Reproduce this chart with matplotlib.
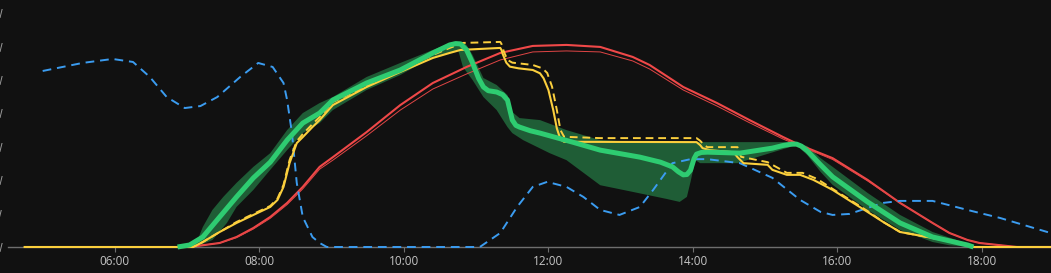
import matplotlib.pyplot as plt
import numpy as np

plt.rcParams['font.family'] = ['Open Sans', 'DejaVu Sans']

# --- data (time of day, kW) ---
blue_t = ['05:00', '05:33', '05:58', '06:15', '06:29', '06:43', '06:58', '07:11', '07:25', '07:44',
          '07:59', '08:11', '08:20', '08:23', '08:27', '08:31', '08:36', '08:44', '08:50', '08:56',
          '11:03', '11:20', '11:34', '11:47', '11:59', '12:15', '12:29', '12:43', '12:59', '13:16',
          '13:27', '13:43', '13:58', '14:12', '14:39', '15:06', '15:29', '15:46', '15:56', '16:10',
          '16:25', '16:38', '16:52', '17:19', '17:48', '17:58', '18:15', '18:57']
blue_v = [5.27, 5.51, 5.63, 5.54, 5.09, 4.49, 4.16, 4.22, 4.49, 5.09,
          5.51, 5.39, 4.91, 4.40, 3.41, 1.92, 0.90, 0.30, 0.12, 0.0,
          0.0, 0.42, 1.20, 1.80, 1.95, 1.80, 1.50, 1.11, 0.96, 1.20,
          1.71, 2.51, 2.63, 2.63, 2.51, 2.07, 1.41, 1.05, 0.96, 0.99,
          1.17, 1.32, 1.38, 1.38, 1.11, 1.02, 0.87, 0.42]

red_t = ['07:02', '07:27', '07:41', '07:55', '08:09', '08:23', '08:36', '08:50', '09:01', '09:29',
         '09:57', '10:24', '10:52', '11:20', '11:47', '12:15', '12:43', '13:10', '13:24', '13:52',
         '14:20', '14:47', '15:15', '15:29', '15:56', '16:25', '16:52', '17:19', '17:33', '17:48',
         '17:58', '18:29', '18:57']
red_v = [0.0, 0.12, 0.30, 0.57, 0.90, 1.32, 1.80, 2.40, 2.69, 3.44,
         4.25, 4.91, 5.39, 5.81, 6.02, 6.05, 5.99, 5.69, 5.45, 4.79,
         4.31, 3.80, 3.29, 3.05, 2.66, 2.01, 1.32, 0.72, 0.42, 0.21,
         0.12, 0.0, 0.0]
red_thin_v = [0.0, 0.12, 0.28, 0.54, 0.86, 1.27, 1.74, 2.33, 2.60, 3.33,
              4.10, 4.73, 5.18, 5.60, 5.84, 5.87, 5.84, 5.57, 5.33, 4.70,
              4.22, 3.72, 3.23, 3.02, 2.62, 1.98, 1.32, 0.72, 0.42, 0.21,
              0.12, 0.0, 0.0]

yellow_t = ['04:45', '07:05', '07:13', '07:27', '07:41', '07:55', '08:09', '08:15', '08:20', '08:25',
            '08:31', '08:36', '08:44', '08:50', '09:01', '09:29', '09:57', '10:24', '10:38', '10:47',
            '11:20', '11:21', '11:22', '11:25', '11:28', '11:35', '11:47', '11:53', '11:56', '12:00',
            '12:04', '12:07', '12:10', '12:13', '14:03', '14:06', '14:08', '14:14', '14:33', '14:35',
            '14:37', '14:42', '15:02', '15:06', '15:18', '15:29', '15:40', '15:56', '16:25', '16:38',
            '16:52', '17:19', '17:48', '17:53', '18:57']
yellow_v = [0.0, 0.0, 0.15, 0.45, 0.72, 0.96, 1.20, 1.41, 1.80, 2.51,
            3.11, 3.29, 3.59, 3.80, 4.25, 4.79, 5.24, 5.66, 5.81, 5.90,
            5.96, 5.90, 5.78, 5.52, 5.40, 5.35, 5.30, 5.20, 5.05, 4.70,
            4.10, 3.55, 3.22, 3.15, 3.14, 3.05, 2.96, 2.90, 2.84, 2.78,
            2.69, 2.51, 2.46, 2.31, 2.16, 2.16, 2.01, 1.71, 1.05, 0.75,
            0.45, 0.27, 0.06, 0.0, 0.0]

yellow_dash_t = ['04:45', '07:05', '07:13', '07:27', '07:41', '07:55', '08:09', '08:15', '08:20', '08:25',
                 '08:31', '08:36', '08:44', '08:50', '09:01', '09:29', '09:57', '10:24', '10:38', '10:49',
                 '11:20', '11:21', '11:23', '11:26', '11:30', '11:47', '11:55', '11:59', '12:03', '12:07',
                 '12:10', '12:13', '12:43', '14:03', '14:06', '14:10', '14:12', '14:37', '14:38', '14:40',
                 '15:02', '15:18', '15:31', '15:43', '15:56', '16:25', '16:38', '16:52', '17:19', '17:48',
                 '17:53', '18:57']
yellow_dash_v = [0.0, 0.0, 0.15, 0.45, 0.75, 0.99, 1.23, 1.45, 1.86, 2.60,
                 3.17, 3.38, 3.68, 3.89, 4.34, 4.82, 5.30, 5.75, 5.96, 6.11,
                 6.14, 6.08, 5.85, 5.60, 5.52, 5.45, 5.35, 5.21, 4.80, 4.10,
                 3.50, 3.30, 3.26, 3.26, 3.18, 3.03, 2.99, 2.99, 2.85, 2.70,
                 2.54, 2.22, 2.22, 2.04, 1.74, 1.08, 0.75, 0.45, 0.27, 0.06,
                 0.0, 0.0]

green_t = ['06:52', '07:02', '07:13', '07:27', '07:41', '07:55', '08:09', '08:23', '08:36', '08:50',
           '09:01', '09:29', '09:57', '10:24', '10:38', '10:43', '10:47', '10:52', '10:57', '11:02',
           '11:06', '11:10', '11:17', '11:22', '11:26', '11:28', '11:30', '11:33', '11:36', '11:45',
           '11:53', '12:20', '12:43', '13:16', '13:33', '13:43', '13:48', '13:52', '13:55', '13:58',
           '14:01', '14:03', '14:07', '14:12', '14:39', '15:06', '15:15', '15:22', '15:26', '15:30',
           '15:35', '15:46', '15:56', '16:25', '16:52', '17:19', '17:48', '17:53']
green_v = [0.0, 0.06, 0.30, 0.90, 1.50, 2.07, 2.54, 3.20, 3.71, 4.01,
           4.40, 4.91, 5.30, 5.81, 6.05, 6.09, 6.08, 5.90, 5.51, 5.05,
           4.79, 4.68, 4.64, 4.56, 4.40, 4.10, 3.80, 3.64, 3.59, 3.48,
           3.41, 3.14, 2.90, 2.69, 2.54, 2.40, 2.25, 2.16, 2.17, 2.30,
           2.65, 2.78, 2.83, 2.84, 2.81, 2.96, 3.04, 3.08, 3.08, 3.02,
           2.88, 2.46, 2.10, 1.35, 0.72, 0.30, 0.06, 0.0]

band_hi_t = ['06:52', '07:08', '07:13', '07:21', '07:30', '07:41', '07:55', '08:09', '08:23', '08:36',
             '08:50', '09:01', '09:29', '09:57', '10:24', '10:41', '10:49', '10:52', '10:57', '11:06',
             '11:17', '11:26', '11:30', '11:36', '11:53', '12:15', '12:43', '13:16', '15:26', '15:35',
             '15:46', '15:56', '16:25', '16:52', '17:19', '17:48', '17:53']
band_hi_v = [0.0, 0.15, 0.60, 1.11, 1.50, 1.92, 2.40, 2.81, 3.50, 4.01,
             4.31, 4.49, 5.09, 5.51, 5.90, 6.14, 6.14, 6.05, 5.75, 5.06,
             4.85, 4.55, 4.04, 3.86, 3.80, 3.50, 3.20, 3.14, 3.14, 3.02,
             2.66, 2.40, 1.62, 0.96, 0.45, 0.10, 0.0]

band_lo_t = ['06:52', '07:08', '07:21', '07:33', '07:41', '07:55', '08:09', '08:23', '08:36', '08:50',
             '09:01', '09:29', '09:57', '10:24', '10:38', '10:45', '10:49', '10:57', '11:06', '11:17',
             '11:26', '11:30', '11:39', '12:01', '12:15', '12:43', '13:10', '13:38', '13:49', '13:55',
             '13:58', '14:02', '14:06', '14:37', '15:04', '15:26', '15:35', '15:46', '15:56', '16:25',
             '16:52', '17:19', '17:33', '17:53']
band_lo_v = [0.0, 0.02, 0.21, 0.72, 1.20, 1.71, 2.31, 2.90, 3.41, 3.71,
             4.10, 4.70, 5.15, 5.69, 5.81, 5.90, 5.39, 5.00, 4.49, 4.10,
             3.59, 3.41, 3.20, 2.81, 2.60, 1.85, 1.65, 1.44, 1.35, 1.50,
             1.95, 2.60, 2.51, 2.51, 2.81, 3.05, 2.75, 2.25, 1.86, 1.11,
             0.51, 0.15, 0.05, 0.0]

tick_hours = [6, 8, 10, 12, 14, 16, 18]
tick_labels = ['06:00', '08:00', '10:00', '12:00', '14:00', '16:00', '18:00']
y_ticks = [0, 1, 2, 3, 4, 5, 6, 7]


def hours(times):
    return np.array([int(t[:2]) + int(t[3:]) / 60 for t in times])


bg = '#111111'
fig = plt.figure(figsize=(10.51, 2.73), dpi=100, facecolor=bg)
ax = fig.add_axes([8 / 1051, 26 / 273, 1043 / 1051, 247 / 273])
ax.set_facecolor(bg)

# confidence band
bx = np.concatenate([hours(band_hi_t), hours(band_lo_t)[::-1]])
by = np.concatenate([band_hi_v, band_lo_v[::-1]])
ax.fill(bx, by, color='#1f5d36', lw=0, zorder=1)

ax.plot(hours(red_t), red_v, color='#f04848', lw=1.5, zorder=3, clip_on=False)
ax.plot(hours(red_t), red_thin_v, color='#e04545', lw=0.7, zorder=3, clip_on=False)
ax.plot(hours(blue_t), blue_v, color='#3b9cf0', lw=1.4, ls=(0, (4.5, 3)), zorder=4, clip_on=False)
ax.plot(hours(yellow_t), yellow_v, color='#fbcf3d', lw=1.5, zorder=5, clip_on=False)
ax.plot(hours(yellow_dash_t), yellow_dash_v, color='#fbcf3d', lw=1.4, ls=(0, (4, 2.5)), zorder=5)
ax.plot(hours(green_t), green_v, color='#2ecc71', lw=3.6, zorder=6, solid_capstyle='butt',
        solid_joinstyle='round', clip_on=False)

ax.set_xlim(4.52, 4.52 + 1043 / 72.25)
ax.set_ylim(0, 7.395)

ax.set_xticks(tick_hours)
ax.set_xticklabels(tick_labels)
ax.set_yticks(y_ticks)
ax.set_yticklabels([f'{v} kW' for v in y_ticks])

for s in ['top', 'right', 'left']:
    ax.spines[s].set_visible(False)
ax.spines['bottom'].set_color('#6e6e6e')
ax.spines['bottom'].set_linewidth(1)

ax.tick_params(axis='x', length=3.6, width=0.8, color='#6e6e6e', labelcolor='#c4c4c4',
               labelsize=8.5, pad=2.5)
ax.tick_params(axis='y', length=0, pad=4, labelcolor='#9a9a9a', labelsize=8.5)

fig.savefig('out.png', dpi=100, facecolor=bg)
